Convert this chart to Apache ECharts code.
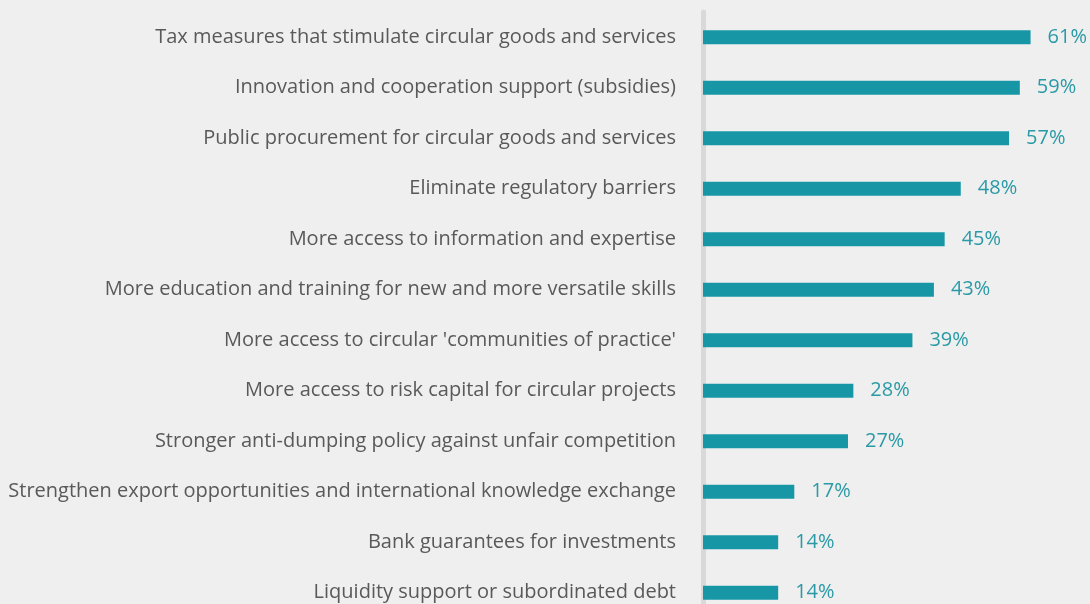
<!DOCTYPE html>
<html>
<head>
<meta charset="utf-8">
<script src="https://cdn.jsdelivr.net/npm/echarts@6/dist/echarts.min.js"></script>
<style>
  html, body { margin: 0; padding: 0; background: #efefef; }
  #chart { width: 1090px; height: 604px; }
</style>
</head>
<body>
<div id="chart"></div>
<script>
// Policy measures and the share of respondents who named each one
const categories = [
  "Tax measures that stimulate circular goods and services",
  "Innovation and cooperation support (subsidies)",
  "Public procurement for circular goods and services",
  "Eliminate regulatory barriers",
  "More access to information and expertise",
  "More education and training for new and more versatile skills",
  "More access to circular 'communities of practice'",
  "More access to risk capital for circular projects",
  "Stronger anti-dumping policy against unfair competition",
  "Strengthen export opportunities and international knowledge exchange",
  "Bank guarantees for investments",
  "Liquidity support or subordinated debt"
];
const shares = [61, 59, 57, 48, 45, 43, 39, 28, 27, 17, 14, 14];

const teal = "#1797a6";
const font = "Open Sans";

const chart = echarts.init(document.getElementById("chart"), null, { renderer: "canvas" });
chart.setOption({
  backgroundColor: "#efefef",
  animation: false,
  grid: { left: 703, top: 12, width: 537, bottom: -14, outerBoundsMode: "none", containLabel: false },
  xAxis: {
    type: "value",
    min: 0,
    max: 100,
    show: false
  },
  yAxis: {
    type: "category",
    data: categories,
    inverse: true,
    offset: 3,
    axisLine: { show: true, lineStyle: { color: "#d9d9d9", width: 5 } },
    axisTick: { show: false },
    axisLabel: {
      color: "#595959",
      fontFamily: font,
      fontSize: 20,
      margin: 24
    }
  },
  series: [{
    type: "bar",
    data: shares,
    barWidth: 14,
    itemStyle: { color: teal },
    label: {
      show: true,
      position: "right",
      distance: 17,
      color: "#2a9aa6",
      fontFamily: font,
      fontSize: 20,
      formatter: p => p.value + "%"
    }
  }]
});
</script>
</body>
</html>
